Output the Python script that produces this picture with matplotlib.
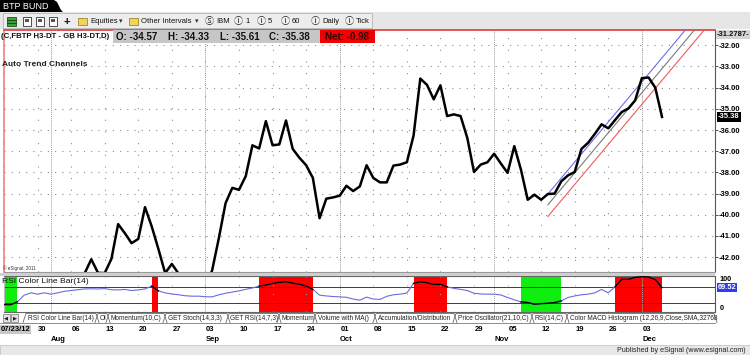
import numpy as np
import matplotlib
matplotlib.use("Agg")
import matplotlib.pyplot as plt
import matplotlib.transforms as mtransforms
from matplotlib.patches import Rectangle, Polygon
from matplotlib.lines import Line2D

plt.rcParams['font.family'] = ['Liberation Sans', 'DejaVu Sans']

# ---- values; x is the trading day counted from 07/23/12 ----
close = [
    -43.6, -43.9, -44.2, -43.8, -43.5, -43.9, -43.7, -43.4, -43.8, -43.5,
    -43.2, -43.0, -42.77, -42.10, -42.74, -42.75, -42.08, -40.44, -40.87, -41.34,
    -41.14, -39.64, -40.55, -41.62, -42.75, -42.32, -42.78, -43.3, -43.6, -43.5,
    -43.4, -42.62, -41.10, -39.45, -38.73, -38.82, -38.18, -36.72, -36.87, -35.58,
    -36.72, -36.68, -35.55, -36.89, -37.31, -37.66, -38.26, -40.16, -39.24, -39.18,
    -39.10, -38.63, -38.88, -38.66, -37.66, -38.26, -38.47, -38.47, -37.68, -37.63,
    -37.52, -36.26, -33.57, -33.87, -34.55, -33.89, -35.34, -35.26, -35.34, -36.37,
    -37.98, -37.63, -37.52, -37.12, -37.58, -38.02, -36.76, -37.88, -39.29, -39.05,
    -39.29, -39.02, -39.00, -38.42, -38.14, -37.98, -36.89, -36.60, -36.18, -35.73,
    -35.92, -35.53, -35.15, -34.98, -34.60, -33.55, -33.52, -34.00, -35.38]

rsi = [
    25.8, 25.5, 33, 50, 56, 52.6, 56, 52.6, 56, 60,
    62, 64, 66, 66.5, 66, 67, 64, 63.5, 64.8, 62,
    63.5, 66, 73.4, 61, 56, 53, 51, 48.5, 47.4, 47.4,
    46, 45.6, 51, 55, 58, 61, 65, 68.5, 73.4, 76,
    80, 83, 84.5, 81, 78, 74, 64.8, 50, 48, 46.5,
    45.6, 44.5, 40, 37, 45, 40, 39, 47, 51, 52.6,
    55.5, 80.4, 84.5, 82, 77.8, 77.8, 71.6, 67.4, 65, 62,
    55, 53, 52.6, 52.6, 50.5, 44, 38, 32.6, 31, 26.6,
    28.2, 29, 31, 35.2, 44, 48, 51, 52.6, 56, 64.8,
    56, 71.6, 90.8, 90.8, 96, 97.5, 97, 90, 69.52]
rsi_levels = [70, 30]

# rsi colour zones (first bar, bar after last)
zone_start = [0, 22, 38, 61, 77, 91]
zone_end = [2, 23, 46, 66, 83, 98]
zone_kind = ["low", "high", "high", "high", "low", "high"]

# auto trend channel (day, value) end points
channel_x = [81, 106]
channel_upper = [-39.02, -29.57]
channel_mid = [-39.53, -30.08]
channel_lower = [-40.08, -30.63]

price_ticks = [-32.0, -33.0, -34.0, -35.0, -36.0, -37.0, -38.0, -39.0, -40.0, -41.0, -42.0]
top_value = -31.2787
bottom_value = -42.70

week_ticks = [0, 5, 10, 15, 20, 25, 30, 35, 40, 45, 50, 55, 60, 65, 70, 75, 80, 85, 90, 95]
week_labels = ["07/23/12", "30", "06", "13", "20", "27", "03", "10", "17", "24",
               "01", "08", "15", "22", "29", "05", "12", "19", "26", "03"]
month_ticks = [7, 30, 50, 73, 95]
month_labels = ["Aug", "Sep", "Oct", "Nov", "Dec"]

ohlc_names = ["O", "H", "L", "C"]
ohlc = [-34.57, -34.33, -35.61, -35.38]
net = -0.98

tabs = ["RSI Color Line Bar(14)", "OI", "Momentum(10,C)", "GET Stoch(14,3,3)",
        "GET RSI(14,7,3)", "Momentum", "Volume with MA()", "Accumulation/Distribution",
        "Price Oscillator(21,10,C)", "RSI(14,C)", "Color MACD Histogram (12,26,9,Close,SMA,32768"]

# ---- layout helpers (pixel coords, y from top) ----
W, H = 750, 355
fig = plt.figure(figsize=(W / 100, H / 100), dpi=100)
fig.patch.set_facecolor('white')


def fr(x, y, w, h):
    return [x / W, 1 - (y + h) / H, w / W, h / H]


def box(x, y, w, h, fc, ec='none', lw=0.6, z=1):
    fig.add_artist(Rectangle((x / W, 1 - (y + h) / H), w / W, h / H,
                             transform=fig.transFigure, fc=fc, ec=ec, lw=lw, zorder=z))


def txt(x, y, s, size=5.5, **kw):
    kw.setdefault('va', 'center')
    kw.setdefault('color', '#111111')
    return fig.text(x / W, 1 - y / H, s, fontsize=size, **kw)


def line(xs, ys, color, lw=0.6, z=2):
    fig.add_artist(Line2D([v / W for v in xs], [1 - v / H for v in ys],
                          transform=fig.transFigure, color=color, lw=lw, zorder=z))


x = np.arange(len(close))
xlim = ((4 - 3.4) / 6.72, (715 - 3.4) / 6.72)

# ---- window chrome ----
fig.add_artist(Polygon([(0, 1), (54 / W, 1), (57 / W, 1 - 2 / H), (59 / W, 1 - 6 / H),
                        (61 / W, 1 - 10 / H), (63 / W, 1 - 12 / H), (0, 1 - 12 / H)],
                       closed=True, transform=fig.transFigure, fc='black', ec='none', zorder=2))
txt(3, 6.5, "BTP BUND", 6.5, color='white')
box(0, 12, 750, 17, '#e6e6e6', z=0.5)
box(3, 13, 369, 15, '#ededed', ec='#b5b5b5')

# toolbar icons
box(7, 17, 9, 9, '#3aa83a', ec='#1d4d1d', z=2)
line([7, 16], [20, 20], '#1d4d1d', 0.8, 3)
line([7, 16], [23, 23], '#1d4d1d', 0.8, 3)
for ix in [23, 36, 49]:
    box(ix, 17, 8, 9, 'white', ec='#333333', z=2)
    box(ix + 2, 19, 4, 3, '#555555', z=3)
txt(63, 21.5, "+", 8, fontweight='bold')
for ix, label, arrow_x in [(78, "Equities", 119), (129, "Other Intervals", 195)]:
    box(ix, 18, 9, 7, '#f1d45c', ec='#a68626', z=2)
    txt(ix + 12, 21.5, label, 5.5)
    txt(arrow_x, 21.5, "\u25be", 5, color='#333333')
for ix, sym, label in [(205, "\u24c8", "IBM"), (234, "\u24be", "1"), (257, "\u24be", "5"),
                       (281, "\u24be", "60"), (311, "\u24be", "Daily"), (345, "\u24be", "Tick")]:
    txt(ix, 21.5, sym, 6.5, color='#222222',
        family=['Noto Sans CJK JP', 'DejaVu Sans'])
    txt(ix + 11, 21.5, label, 5.5)

# ---- price pane ----
ax = fig.add_axes(fr(4, 30, 711, 242))
ax.set_xlim(*xlim)
ax.set_ylim(bottom_value, top_value)
ax.plot(x, close, color='black', lw=1.8, zorder=5)
ax.plot(channel_x, channel_upper, color='#6c6cf0', lw=0.8, zorder=4)
ax.plot(channel_x, channel_mid, color='#7a7a7a', lw=0.8, zorder=4)
ax.plot(channel_x, channel_lower, color='#f05a5a', lw=0.8, zorder=4)
ax.set_yticks(price_ticks)
ax.set_yticklabels([f"{v:.2f}" for v in price_ticks], fontweight='bold')
ax.yaxis.tick_right()
ax.tick_params(axis='y', length=2, width=0.6, pad=1, labelsize=5.5, color='#333333')
ax.set_xticks(week_ticks)
ax.tick_params(axis='x', length=0, labelbottom=False)
ax.grid(axis='y', color='#8c8c8c', lw=0.8, linestyle=(0, (1, 5.5)))
ax.grid(axis='x', color='#8c8c8c', lw=0.8, linestyle=(0, (1, 9.5)))
for m in month_ticks:
    ax.axvline(m, color='#a0a0a0', lw=0.7, linestyle=(0, (1, 1)), zorder=1)
ax.spines['top'].set_color('#e05555')
ax.spines['top'].set_linewidth(1.4)
ax.spines['left'].set_color('#f08080')
ax.spines['left'].set_linewidth(1.2)
ax.spines['right'].set_color('#555555')
ax.spines['bottom'].set_color('#9a9a9a')
blend = mtransforms.blended_transform_factory(ax.transAxes, ax.transData)
ax.text(1.004, close[-1], f"{close[-1]:.2f}", transform=blend, fontsize=5.5, fontweight='bold',
        color='white', va='center', ha='left',
        bbox=dict(boxstyle='square,pad=0.15', fc='black', ec='none'))

# pane header
txt(1, 36, "(C,FBTP H3-DT - GB H3-DT,D)", 5.6, fontweight='bold', zorder=4)
box(113, 30, 207, 13, '#c6c6c6', z=3)
for nx, name, val in zip([116, 168, 220, 269], ohlc_names, ohlc):
    txt(nx, 36.8, f"{name}: {val:.2f}", 7, fontweight='bold', zorder=4)
box(320, 30, 55, 13, '#f00000', z=3)
txt(325, 36.8, f"Net: {net:.2f}", 7, fontweight='bold', color='#300000', zorder=4)
txt(717, 34.5, f"{top_value:.4f}-", 5.5, fontweight='bold', zorder=4,
    bbox=dict(boxstyle='square,pad=0.15', fc='#d4d4d4', ec='none'))
txt(1.5, 65, "Auto Trend Channels", 6, fontweight='bold', color='#222222', zorder=4)
txt(3, 268, "\u00a9 eSignal, 2011", 3.3, color='#333333', zorder=4)

# pane separator
box(0, 272.5, 715, 3.5, '#cfcfcf', z=0.5)

# ---- RSI pane ----
rax = fig.add_axes(fr(4, 276, 711, 36))
rax.set_xlim(*xlim)
rax.set_ylim(6.6, 99.4)
for s, e, k in zip(zone_start, zone_end, zone_kind):
    rax.axvspan(s, e, color='#10ee10' if k == "low" else '#ff0000', lw=0, zorder=1)
rax.plot(x, rsi, color='#6b6be0', lw=0.8, zorder=3)
for s, e in zip(zone_start, zone_end):
    rax.plot(x[s:e + 1], rsi[s:e + 1], color='black', lw=1.0, zorder=4)
for lvl in rsi_levels:
    rax.axhline(lvl, color='#3c3c3c', lw=0.7, zorder=2)
for m in month_ticks:
    rax.axvline(m, color='#a0a0a0', lw=0.7, linestyle=(0, (1, 1)), zorder=1.5)
rax.set_xticks(week_ticks)
rax.set_yticks([])
rax.tick_params(axis='x', length=0, labelbottom=False)
rax.grid(axis='x', color='#aaaaaa', lw=0.7, linestyle=(0, (1, 8)))
for side in ['top', 'bottom']:
    rax.spines[side].set_color('#666666')
rax.spines['left'].set_color('#bbbbbb')
rax.spines['right'].set_color('#555555')
rax.text(1.006, 0.9, "100", transform=rax.transAxes, fontsize=5.3, fontweight='bold', va='center')
rax.text(1.006, 0.1, "0", transform=rax.transAxes, fontsize=5.3, fontweight='bold', va='center')
rblend = mtransforms.blended_transform_factory(rax.transAxes, rax.transData)
rax.text(1.004, rsi[-1], f"{rsi[-1]:.2f}", transform=rblend, fontsize=5.3, fontweight='bold',
         color='white', va='center', bbox=dict(boxstyle='square,pad=0.1', fc='#2f3cf0', ec='none'))
txt(1.5, 281.5, "RSI Color Line Bar(14)", 6.1, zorder=4)

# ---- study tabs ----
line([0, 715], [322.5, 322.5], '#7a7a7a', 0.6)
box(3, 313.5, 7, 8, '#e2e2e2', ec='#8a8a8a', z=2)
box(11, 313.5, 7, 8, '#e2e2e2', ec='#8a8a8a', z=2)
txt(4.3, 317.8, "\u25c0", 3.8, color='#222222', zorder=3)
txt(12.5, 317.8, "\u25b6", 3.8, color='#222222', zorder=3)
tab_x = [25, 97, 108, 165, 228, 279, 315, 375, 455, 532, 567, 715]
for i, name in enumerate(tabs):
    x0, x1 = tab_x[i], tab_x[i + 1]
    line([x0 - 2, x0 + 1, x1 - 1, x1 + 2], [322.5, 313.5, 313.5, 322.5], '#6a6a6a', 0.6)
    txt(x0 + 2.5, 318, name, 4.7, color='#222222', zorder=3)

# ---- date axis ----
dax = fig.add_axes(fr(4, 323, 711, 22))
dax.set_xlim(*xlim)
dax.set_ylim(0, 1)
dax.axis('off')
for t, lab in zip(week_ticks, week_labels):
    if t == week_ticks[0]:
        dax.text(t - 0.45, 0.72, lab, fontsize=5.5, fontweight='bold', ha='left', va='center',
                 bbox=dict(boxstyle='square,pad=0.12', fc='#c8c8c8', ec='none'))
    else:
        dax.text(t + 0.15, 0.72, lab, fontsize=5.5, fontweight='bold', ha='left', va='center')
for t, lab in zip(month_ticks, month_labels):
    dax.text(t + 0.1, 0.27, lab, fontsize=5.5, fontweight='bold', ha='left', va='center')

# ---- status bar ----
box(0, 345, 750, 10, '#e8e8e8', ec='#bdbdbd', lw=0.5)
txt(746, 350.3, "Published by eSignal (www.esignal.com)", 5.1, ha='right', color='#222222', zorder=3)

fig.savefig("out.png", dpi=100)
